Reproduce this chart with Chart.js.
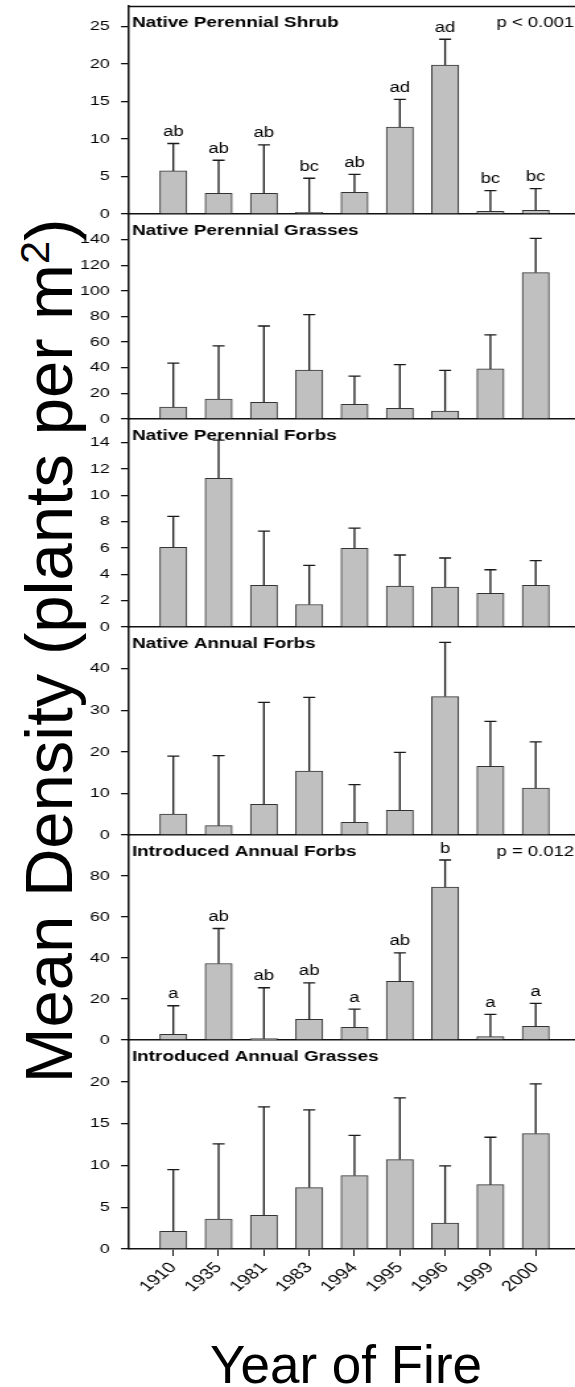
<!DOCTYPE html>
<html>
<head>
<meta charset="utf-8">
<script src="https://cdn.jsdelivr.net/npm/chart.js@4.4.1/dist/chart.umd.min.js"></script>
<style>
html,body{margin:0;padding:0;background:#fff;}
body{width:575px;height:1387px;position:relative;overflow:hidden;font-family:"Liberation Sans",Arial,sans-serif;color:#000;}
.panel{position:absolute;left:80px;transform-origin:0 0;}
.panel canvas{display:block;}
#ytitle{position:absolute;left:48px;top:651px;transform:translate(-50%,-50%) rotate(-90deg);font-size:67px;line-height:1;white-space:nowrap;}
#ytitle sup{font-size:0.62em;vertical-align:0;position:relative;top:-0.55em;}
#xtitle{position:absolute;left:346px;top:1338px;transform:translateX(-50%);font-size:53px;line-height:1;white-space:nowrap;}
</style>
</head>
<body>
<div id="ytitle">Mean Density (plants per m<sup>2</sup>)</div>
<div id="xtitle">Year of Fire</div>
<script>
// ---------------- data ----------------
const years = ['1910','1935','1981','1983','1994','1995','1996','1999','2000'];
const panelTitles = ['Native Perennial Shrub','Native Perennial Grasses','Native Perennial Forbs','Native Annual Forbs','Introduced Annual Forbs','Introduced Annual Grasses'];
const pTexts = ['p < 0.001', '', '', '', 'p = 0.012', ''];

const shrubMean    = [5.74, 2.76, 2.76, 0.22, 2.89, 11.57, 19.84, 0.36, 0.49];
const shrubSE      = [3.65, 4.40, 6.45, 4.54, 2.40, 3.69, 3.43, 2.75, 2.89];
const shrubLetters = ['ab','ab','ab','bc','ab','ad','ad','bc','bc'];
const shrubTicks   = [0, 5, 10, 15, 20, 25];

const grassMean  = [9.3, 15.6, 13.0, 38.1, 11.4, 8.3, 6.2, 39.1, 114.3];
const grassSE    = [34.3, 41.4, 59.6, 43.3, 22.0, 34.2, 31.7, 26.5, 26.7];
const grassTicks = [0, 20, 40, 60, 80, 100, 120, 140];

const pforbMean  = [6.06, 11.30, 3.16, 1.71, 5.98, 3.11, 3.03, 2.55, 3.16];
const pforbSE    = [2.34, 2.90, 4.12, 2.97, 1.53, 2.36, 2.21, 1.80, 1.88];
const pforbTicks = [0, 2, 4, 6, 8, 10, 12, 14];

const aforbMean  = [5.04, 2.24, 7.36, 15.36, 3.04, 5.92, 33.28, 16.48, 11.28];
const aforbSE    = [13.92, 16.86, 24.54, 17.74, 9.06, 13.92, 13.02, 10.82, 11.12];
const aforbTicks = [0, 10, 20, 30, 40];

const iforbMean    = [2.76, 37.3, 0.65, 10.06, 6.17, 28.56, 74.6, 1.62, 6.65];
const iforbSE      = [13.94, 17.1, 24.85, 17.84, 8.93, 13.94, 13.2, 10.88, 11.2];
const iforbLetters = ['a','ab','ab','ab','a','ab','b','a','a'];
const iforbTicks   = [0, 20, 40, 60, 80];

const igrassMean  = [2.12, 3.59, 4.03, 7.35, 8.78, 10.7, 3.11, 7.7, 13.81];
const igrassSE    = [7.38, 8.98, 12.97, 9.30, 4.82, 7.38, 6.83, 5.67, 5.95];
const igrassTicks = [0, 5, 10, 15, 20];

// ---------------- layout ----------------
const SX = 1.32;            // horizontal stretch of the panel drawings
const WRAP_LEFT = 80;
const AXIS_X = 128;
const RIGHT = 575;
const SLOT = 45.3;          // px between categories
const bounds = [6, 214, 419, 627, 835, 1040, 1249];
const FONT = '"Liberation Sans", Arial, sans-serif';
const INK = '#111';

const panels = [
  {title: panelTitles[0], mean: shrubMean,  se: shrubSE,  letters: shrubLetters, ticks: shrubTicks,  max: 27.7, p: pTexts[0]},
  {title: panelTitles[1], mean: grassMean,  se: grassSE,  letters: null,         ticks: grassTicks,  max: 160,  p: pTexts[1]},
  {title: panelTitles[2], mean: pforbMean,  se: pforbSE,  letters: null,         ticks: pforbTicks,  max: 15.8, p: pTexts[2]},
  {title: panelTitles[3], mean: aforbMean,  se: aforbSE,  letters: null,         ticks: aforbTicks,  max: 50,   p: pTexts[3]},
  {title: panelTitles[4], mean: iforbMean,  se: iforbSE,  letters: iforbLetters, ticks: iforbTicks,  max: 100,  p: pTexts[4]},
  {title: panelTitles[5], mean: igrassMean, se: igrassSE, letters: null,         ticks: igrassTicks, max: 25,   p: pTexts[5]}
];

function annotPlugin(p, drawTop) {
  return {
    id: 'annot',
    afterDatasetsDraw(chart) {
      const ctx = chart.ctx, xs = chart.scales.x, ys = chart.scales.y, a = chart.chartArea;
      ctx.save();
      ctx.strokeStyle = '#1a1a1a';
      ctx.lineWidth = 1.3;
      ctx.fillStyle = '#000';
      ctx.font = '14px ' + FONT;
      ctx.textAlign = 'center';
      ctx.textBaseline = 'alphabetic';
      const cap = 6 / SX;
      p.mean.forEach((m, i) => {
        const x = xs.getPixelForValue(i + 1);
        const y0 = ys.getPixelForValue(m);
        const y1 = ys.getPixelForValue(m + p.se[i]);
        ctx.beginPath();
        ctx.moveTo(x, y0); ctx.lineTo(x, y1);
        ctx.moveTo(x - cap, y1); ctx.lineTo(x + cap, y1);
        ctx.stroke();
        if (p.letters) ctx.fillText(p.letters[i], x, y1 - 7.5);
      });
      // panel title
      ctx.textAlign = 'left';
      ctx.font = 'bold 14.3px ' + FONT;
      ctx.fillText(p.title, a.left + 4 / SX, a.top + 21);
      if (p.p) {
        ctx.textAlign = 'right';
        ctx.font = '14px ' + FONT;
        ctx.fillText(p.p, (574 - WRAP_LEFT) / SX, a.top + 21);
      }
      if (drawTop) {
        ctx.beginPath();
        ctx.lineWidth = 1.5;
        ctx.strokeStyle = INK;
        ctx.moveTo(a.left, a.top + 0.5);
        ctx.lineTo(a.right, a.top + 0.5);
        ctx.stroke();
      }
      ctx.restore();
    }
  };
}

panels.forEach((p, idx) => {
  const isLast = idx === panels.length - 1;
  const top = bounds[idx], bottom = bounds[idx + 1];
  const PAD = 20;
  const XH = isLast ? 80 : 0;
  const BOT = isLast ? 0 : PAD;
  const h = PAD + (bottom - top) + XH + BOT;
  const w = (RIGHT - WRAP_LEFT) / SX;
  const wrap = document.createElement('div');
  wrap.className = 'panel';
  wrap.style.top = (top - PAD) + 'px';
  wrap.style.width = w + 'px';
  wrap.style.height = h + 'px';
  wrap.style.transform = 'scaleX(' + SX + ')';
  const cv = document.createElement('canvas');
  cv.width = w; cv.height = h;
  cv.style.width = w + 'px'; cv.style.height = h + 'px';
  wrap.appendChild(cv);
  document.body.appendChild(wrap);

  new Chart(cv, {
    type: 'bar',
    data: {
      datasets: [{
        data: p.mean.map((v, i) => ({x: i + 1, y: v})),
        backgroundColor: '#c0c0c0',
        borderColor: '#333',
        borderWidth: 1,
        barThickness: 27 / SX,
        borderSkipped: 'bottom'
      }]
    },
    options: {
      responsive: false,
      animation: false,
      devicePixelRatio: 1,
      layout: {padding: {top: PAD, bottom: BOT, left: 0, right: 0}},
      plugins: {legend: {display: false}, tooltip: {enabled: false}, title: {display: false}},
      scales: {
        x: {
          type: 'linear',
          offset: false,
          min: 0,
          max: (RIGHT - AXIS_X) / SLOT,
          afterBuildTicks: s => { s.ticks = years.map((_, i) => ({value: i + 1})); },
          afterFit: s => { s.height = XH; },
          grid: {display: isLast, offset: false, drawOnChartArea: false, drawTicks: isLast, tickLength: 7, color: INK, lineWidth: 1},
          border: {display: true, color: INK, width: 1.6},
          ticks: {
            display: isLast, autoSkip: false, maxRotation: 47, minRotation: 47, padding: 3,
            font: {size: 15, family: FONT}, color: '#000',
            callback: v => years[v - 1]
          }
        },
        y: {
          min: 0,
          max: p.max,
          afterBuildTicks: s => { s.ticks = p.ticks.map(v => ({value: v})); },
          afterFit: s => { s.width = (AXIS_X - WRAP_LEFT) / SX; },
          grid: {drawOnChartArea: false, drawTicks: true, tickLength: 7 / SX, color: INK, lineWidth: 1.3},
          border: {display: true, color: INK, width: 1.5},
          ticks: {padding: 8.5, font: {size: 13.5, family: FONT}, color: '#000'}
        }
      }
    },
    plugins: [annotPlugin(p, idx === 0)]
  });
});
</script>
</body>
</html>
